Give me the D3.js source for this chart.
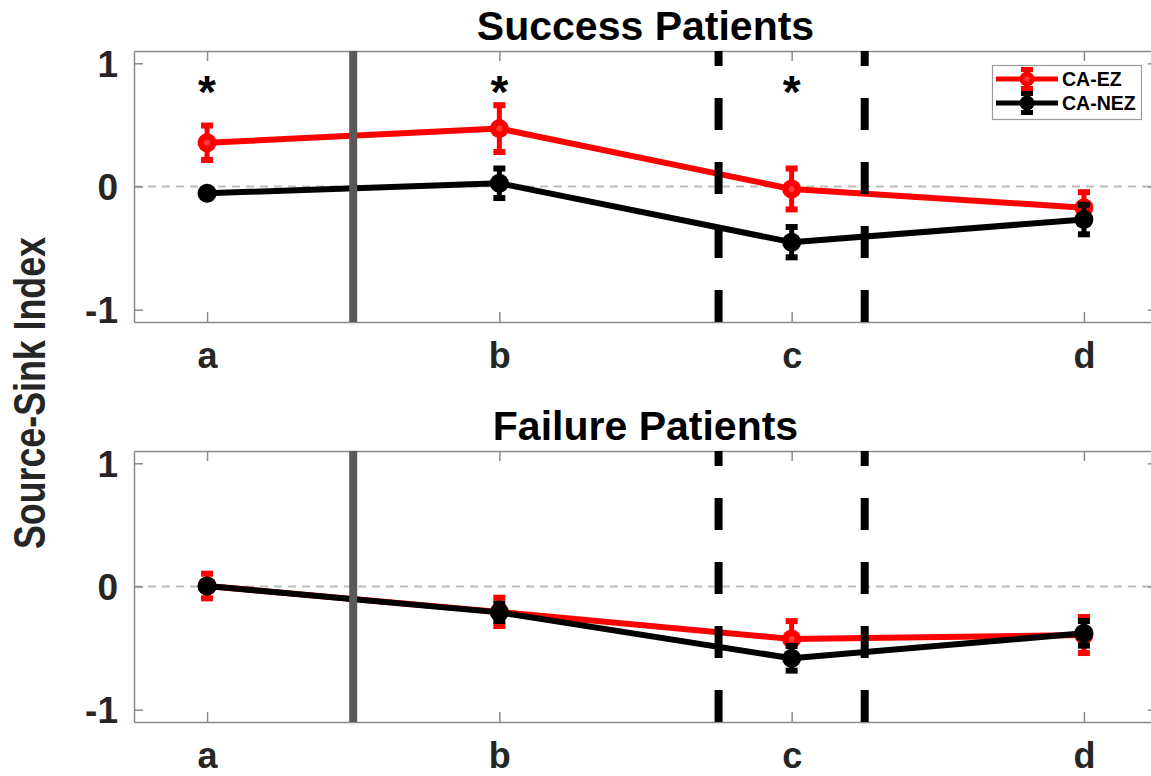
<!DOCTYPE html>
<html>
<head>
<meta charset="utf-8">
<script src="https://cdn.jsdelivr.net/npm/d3@7"></script>
<style>
  html, body { margin: 0; padding: 0; background: #fff; }
  svg { display: block; }
  text { font-family: "Liberation Sans", Arial, Helvetica, sans-serif; font-weight: bold; }
</style>
</head>
<body>
<svg id="chart" width="1151" height="776"></svg>
<script>
// ---------------- data ----------------
const categories = ["a", "b", "c", "d"];
const yTicks = [-1, 0, 1];
const yTickLabels = ["-1", "0", "1"];
const seriesNames = ["CA-EZ", "CA-NEZ"];

const successEZ      = [0.355, 0.47, -0.02, -0.172];
const successEZErr   = [0.14, 0.19, 0.166, 0.126];
const successNEZ     = [-0.055, 0.026, -0.452, -0.268];
const successNEZErr  = [0.03, 0.12, 0.123, 0.12];

const failureEZ      = [0.004, -0.206, -0.426, -0.394];
const failureEZErr   = [0.10, 0.115, 0.145, 0.146];
const failureNEZ     = [0.004, -0.21, -0.583, -0.38];
const failureNEZErr  = [0.03, 0.07, 0.10, 0.10];

const successStars   = [0.85, 0.85, 0.85, null]; // significance markers
const failureStars   = [null, null, null, null];

const solidMarkers   = [1.5];          // solid vertical reference line (category units)
const dashedMarkers  = [2.75, 3.25];   // dashed vertical reference lines
const xDomain = [0.75, 4.25];
const yDomain = [-1.1, 1.1];

// ---------------- layout ----------------
const svg = d3.select("#chart");
const left = 134, right = 1157;
const panels = [
  { title: "Success Patients", top: 51, bottom: 322, ez: successEZ, ezErr: successEZErr,
    nez: successNEZ, nezErr: successNEZErr, stars: successStars, legend: true },
  { title: "Failure Patients", top: 451, bottom: 722, ez: failureEZ, ezErr: failureEZErr,
    nez: failureNEZ, nezErr: failureNEZErr, stars: failureStars, legend: false }
];

const colors = { "CA-EZ": "#ff0000", "CA-NEZ": "#000000" };
const boxColor = "#8a8a8a";
const labelColor = "#262626";
const FONT = "Liberation Sans, Arial, sans-serif";

const x = d3.scaleLinear().domain(xDomain).range([left, right]);

panels.forEach((p, pi) => {
  const y = d3.scaleLinear().domain(yDomain).range([p.bottom, p.top]);
  const g = svg.append("g");

  // zero reference line
  g.append("line")
    .attr("x1", x(xDomain[0])).attr("x2", x(xDomain[1]))
    .attr("y1", y(0)).attr("y2", y(0))
    .attr("stroke", "#bdbdbd").attr("stroke-width", 2)
    .attr("stroke-dasharray", "8,6");

  // axes (inward ticks on all four sides)
  const xAxisB = d3.axisBottom(x).tickValues(categories.map((c, i) => i + 1))
    .tickFormat((d) => categories[d - 1]).tickSizeInner(-10).tickSizeOuter(0).tickPadding(0);
  const gxb = g.append("g").attr("transform", `translate(0,${p.bottom})`).call(xAxisB);
  const xAxisT = d3.axisTop(x).tickValues(categories.map((c, i) => i + 1))
    .tickFormat("").tickSizeInner(-10).tickSizeOuter(0);
  const gxt = g.append("g").attr("transform", `translate(0,${p.top})`).call(xAxisT);

  const yAxisL = d3.axisLeft(y).tickValues(yTicks)
    .tickFormat((d) => yTickLabels[yTicks.indexOf(d)])
    .tickSizeInner(-9).tickSizeOuter(0).tickPadding(16);
  const gyl = g.append("g").attr("transform", `translate(${left},0)`).call(yAxisL);
  const yAxisR = d3.axisRight(y).tickValues(yTicks).tickFormat("")
    .tickSizeInner(-9).tickSizeOuter(0);
  const gyr = g.append("g").attr("transform", `translate(${right},0)`).call(yAxisR);

  [gxb, gxt, gyl, gyr].forEach(ax => {
    ax.select(".domain").attr("stroke", boxColor).attr("stroke-width", 1.5);
    ax.selectAll(".tick line").attr("stroke", boxColor).attr("stroke-width", 1.5);
  });
  gxb.selectAll(".tick text").attr("font-size", 36).attr("fill", labelColor)
    .attr("font-family", FONT).attr("font-weight", "bold")
    .attr("y", 46).attr("dy", null);
  gyl.selectAll(".tick text").attr("font-size", 37).attr("fill", labelColor)
    .attr("font-family", FONT).attr("font-weight", "bold").attr("dy", "0.35em");

  // data series
  const series = [
    { name: "CA-EZ", vals: p.ez, errs: p.ezErr },
    { name: "CA-NEZ", vals: p.nez, errs: p.nezErr }
  ];
  const line = d3.line().x((d, i) => x(i + 1)).y(d => y(d));
  series.forEach(s => {
    const col = colors[s.name];
    const sg = g.append("g");
    sg.append("path").datum(s.vals).attr("d", line)
      .attr("fill", "none").attr("stroke", col).attr("stroke-width", 6)
      .attr("stroke-linejoin", "round");
    const pts = s.vals.map((v, i) => ({ i, v, e: s.errs[i] }));
    sg.selectAll(".eb").data(pts).enter().append("line")
      .attr("x1", d => x(d.i + 1)).attr("x2", d => x(d.i + 1))
      .attr("y1", d => y(d.v - d.e)).attr("y2", d => y(d.v + d.e))
      .attr("stroke", col).attr("stroke-width", 5);
    sg.selectAll(".capT").data(pts).enter().append("rect")
      .attr("x", d => x(d.i + 1) - 6).attr("width", 12)
      .attr("y", d => y(d.v + d.e) - 3).attr("height", 6).attr("fill", col);
    sg.selectAll(".capB").data(pts).enter().append("rect")
      .attr("x", d => x(d.i + 1) - 6).attr("width", 12)
      .attr("y", d => y(d.v - d.e) - 3).attr("height", 6).attr("fill", col);
    sg.selectAll(".mk").data(pts).enter().append("circle")
      .attr("cx", d => x(d.i + 1)).attr("cy", d => y(d.v)).attr("r", 9.5).attr("fill", col);
    if (s.name === "CA-EZ") {
      sg.selectAll(".mkc").data(pts).enter().append("circle")
        .attr("cx", d => x(d.i + 1)).attr("cy", d => y(d.v)).attr("r", 3).attr("fill", "#ff3b3b");
    }
  });

  // vertical reference lines
  solidMarkers.forEach(m => {
    g.append("line").attr("x1", x(m)).attr("x2", x(m))
      .attr("y1", p.top).attr("y2", p.bottom)
      .attr("stroke", "#595959").attr("stroke-width", 8);
  });
  dashedMarkers.forEach(m => {
    g.append("line").attr("x1", x(m)).attr("x2", x(m))
      .attr("y1", p.bottom).attr("y2", p.top)
      .attr("stroke", "#000").attr("stroke-width", 8)
      .attr("stroke-dasharray", "32,32");
  });

  // significance stars
  p.stars.forEach((s, i) => {
    if (s === null) return;
    g.append("text").attr("x", x(i + 1)).attr("y", y(s) + 26)
      .attr("text-anchor", "middle").attr("font-size", 46).attr("fill", "#000").text("*");
  });

  // title
  svg.append("text").attr("x", (left + right) / 2).attr("y", p.top - 11)
    .attr("text-anchor", "middle").attr("font-size", 41).attr("fill", "#000").text(p.title);

  // legend
  if (p.legend) {
    const lg = svg.append("g");
    lg.append("rect").attr("x", 992.5).attr("y", 65.5).attr("width", 149).attr("height", 54)
      .attr("fill", "#fff").attr("stroke", "#9a9a9a").attr("stroke-width", 1.2);
    seriesNames.forEach((n, k) => {
      const ly = 79 + k * 24;
      const col = colors[n];
      lg.append("line").attr("x1", 996).attr("x2", 1058).attr("y1", ly).attr("y2", ly)
        .attr("stroke", col).attr("stroke-width", 5);
      lg.append("line").attr("x1", 1027).attr("x2", 1027).attr("y1", ly - 10).attr("y2", ly + 10)
        .attr("stroke", col).attr("stroke-width", 5);
      lg.append("rect").attr("x", 1021).attr("width", 12).attr("y", ly - 12).attr("height", 5).attr("fill", col);
      lg.append("rect").attr("x", 1021).attr("width", 12).attr("y", ly + 7).attr("height", 5).attr("fill", col);
      lg.append("circle").attr("cx", 1027).attr("cy", ly).attr("r", 7.5).attr("fill", col);
      if (k === 0) lg.append("circle").attr("cx", 1027).attr("cy", ly).attr("r", 2.5).attr("fill", "#ff3b3b");
      lg.append("text").attr("x", 1062).attr("y", ly + 7).attr("font-size", 19.5)
        .attr("fill", "#000").text(n);
    });
  }
});

// y-axis label
svg.append("text")
  .attr("transform", `translate(45,393) rotate(-90)`)
  .attr("text-anchor", "middle").attr("font-size", 44).attr("fill", labelColor)
  .attr("textLength", 312).attr("lengthAdjust", "spacingAndGlyphs")
  .text("Source-Sink Index");
</script>
</body>
</html>
